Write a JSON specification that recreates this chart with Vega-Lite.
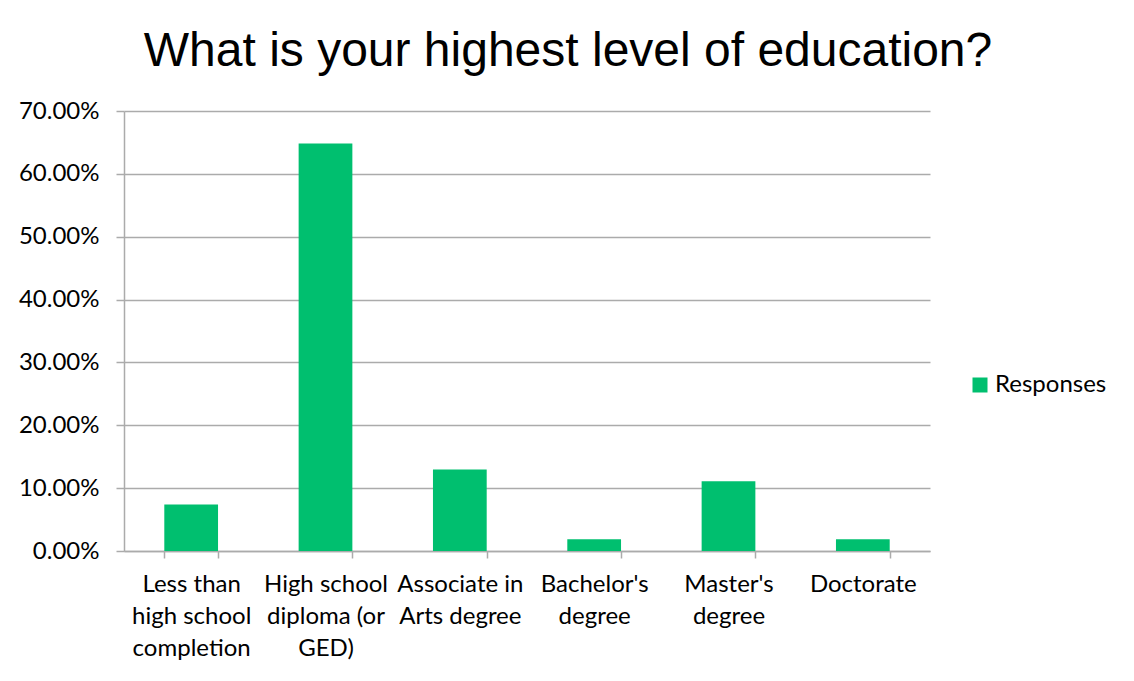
{
  "$schema": "https://vega.github.io/schema/vega-lite/v6.json",
  "width": 806,
  "height": 440,
  "autosize": {"type": "none"},
  "padding": {"left": 124, "top": 111, "right": 204, "bottom": 130},
  "background": "white",
  "title": {
    "text": "What is your highest level of education?",
    "font": "Liberation Sans Narrow, Liberation Sans",
    "fontSize": 48,
    "fontWeight": "normal",
    "color": "black",
    "anchor": "middle",
    "frame": "group",
    "baseline": "alphabetic",
    "dx": 41,
    "offset": -15
  },
  "data": {
    "values": [
      {"level": "Less than|high school|completion", "pct": 0.0741},
      {"level": "High school|diploma (or|GED)", "pct": 0.6481},
      {"level": "Associate in|Arts degree", "pct": 0.1296},
      {"level": "Bachelor's|degree", "pct": 0.0185},
      {"level": "Master's|degree", "pct": 0.1111},
      {"level": "Doctorate", "pct": 0.0185}
    ]
  },
  "mark": {"type": "bar"},
  "encoding": {
    "x": {
      "field": "level",
      "type": "nominal",
      "sort": null,
      "scale": {"paddingInner": 0.6, "paddingOuter": 0.3},
      "axis": {
        "title": null,
        "labelAngle": 0,
        "labelExpr": "split(datum.label, '|')",
        "labelFont": "Lato",
        "labelFontSize": 24,
        "labelColor": "black",
        "labelLineHeight": 32,
        "labelPadding": 14,
        "labelBaseline": "top",
        "domainColor": "#ababab",
        "domainWidth": 1.5,
        "tickColor": "#ababab",
        "tickWidth": 1.5,
        "tickSize": 7,
        "tickBand": "extent",
        "grid": false
      }
    },
    "y": {
      "field": "pct",
      "type": "quantitative",
      "scale": {"domain": [0, 0.7], "nice": false},
      "axis": {
        "title": null,
        "values": [0, 0.1, 0.2, 0.3, 0.4, 0.5, 0.6, 0.7],
        "format": ".2%",
        "labelFont": "Lato",
        "labelFontSize": 24,
        "labelColor": "black",
        "labelPadding": 17,
        "domainColor": "#ababab",
        "domainWidth": 1.5,
        "tickColor": "#ababab",
        "tickWidth": 1.5,
        "tickSize": 8,
        "grid": true,
        "gridColor": "#ababab",
        "gridWidth": 1.5
      }
    },
    "color": {
      "datum": "Responses",
      "scale": {"range": ["#00bf6f"]},
      "legend": {
        "title": null,
        "orient": "none",
        "legendX": 844,
        "legendY": 262,
        "symbolType": "square",
        "symbolSize": 225,
        "symbolStrokeWidth": 0,
        "symbolOpacity": 1,
        "labelFont": "Lato",
        "labelFontSize": 24,
        "labelColor": "black",
        "labelOffset": 3
      }
    }
  },
  "config": {
    "view": {"stroke": null}
  }
}
